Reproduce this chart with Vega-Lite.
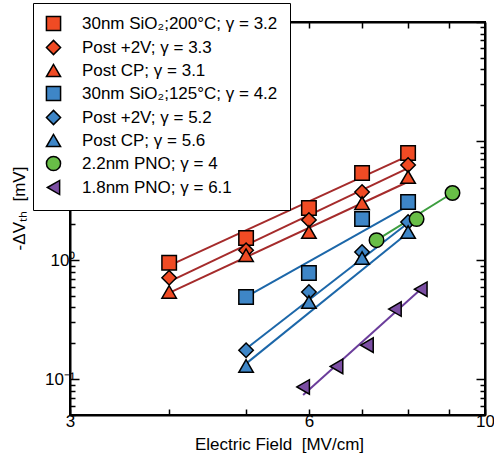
{
  "$schema": "https://vega.github.io/schema/vega-lite/v6.json",
  "width": 415,
  "height": 393,
  "autosize": {"type": "none"},
  "padding": {"left": 70, "top": 22, "right": 9, "bottom": 40},
  "background": "white",
  "config": {
    "view": {"stroke": "black", "strokeWidth": 2},
    "font": "Liberation Sans",
    "axis": {
      "grid": false,
      "domainColor": "black",
      "domainWidth": 2,
      "tickColor": "black",
      "tickWidth": 1.5,
      "labelColor": "black",
      "labelFont": "Liberation Sans",
      "labelFontSize": 17,
      "labelOverlap": false,
      "labelBound": false,
      "labelFlush": false,
      "titleFont": "Liberation Sans",
      "titleFontSize": 17,
      "titleFontWeight": "normal",
      "titleColor": "black"
    }
  },
  "datasets": {
    "pts": [
      {"s": "30nm SiO₂;200°C; γ = 3.2", "x": 4, "y": 0.95},
      {"s": "30nm SiO₂;200°C; γ = 3.2", "x": 5, "y": 1.53},
      {"s": "30nm SiO₂;200°C; γ = 3.2", "x": 6, "y": 2.74},
      {"s": "30nm SiO₂;200°C; γ = 3.2", "x": 7, "y": 5.38},
      {"s": "30nm SiO₂;200°C; γ = 3.2", "x": 8, "y": 7.93},
      {"s": "Post +2V; γ = 3.3", "x": 4, "y": 0.71},
      {"s": "Post +2V; γ = 3.3", "x": 5, "y": 1.21},
      {"s": "Post +2V; γ = 3.3", "x": 6, "y": 2.17},
      {"s": "Post +2V; γ = 3.3", "x": 7, "y": 3.73},
      {"s": "Post +2V; γ = 3.3", "x": 8, "y": 6.29},
      {"s": "Post CP; γ = 3.1", "x": 4, "y": 0.54},
      {"s": "Post CP; γ = 3.1", "x": 5, "y": 1.10},
      {"s": "Post CP; γ = 3.1", "x": 6, "y": 1.72},
      {"s": "Post CP; γ = 3.1", "x": 7, "y": 3.01},
      {"s": "Post CP; γ = 3.1", "x": 8, "y": 4.98},
      {"s": "30nm SiO₂;125°C; γ = 4.2", "x": 5, "y": 0.49},
      {"s": "30nm SiO₂;125°C; γ = 4.2", "x": 6, "y": 0.78},
      {"s": "30nm SiO₂;125°C; γ = 4.2", "x": 7, "y": 2.21},
      {"s": "30nm SiO₂;125°C; γ = 4.2", "x": 8, "y": 3.07},
      {"s": "Post +2V; γ = 5.2", "x": 5, "y": 0.175},
      {"s": "Post +2V; γ = 5.2", "x": 6, "y": 0.54},
      {"s": "Post +2V; γ = 5.2", "x": 7, "y": 1.17},
      {"s": "Post +2V; γ = 5.2", "x": 8, "y": 2.09},
      {"s": "Post CP; γ = 5.6", "x": 5, "y": 0.129},
      {"s": "Post CP; γ = 5.6", "x": 6, "y": 0.444},
      {"s": "Post CP; γ = 5.6", "x": 7, "y": 1.04},
      {"s": "Post CP; γ = 5.6", "x": 8, "y": 1.72},
      {"s": "2.2nm PNO; γ = 4", "x": 7.3, "y": 1.47},
      {"s": "2.2nm PNO; γ = 4", "x": 8.2, "y": 2.21},
      {"s": "2.2nm PNO; γ = 4", "x": 9.1, "y": 3.66},
      {"s": "1.8nm PNO; γ = 6.1", "x": 5.9, "y": 0.086},
      {"s": "1.8nm PNO; γ = 6.1", "x": 6.5, "y": 0.128},
      {"s": "1.8nm PNO; γ = 6.1", "x": 7.1, "y": 0.193},
      {"s": "1.8nm PNO; γ = 6.1", "x": 7.7, "y": 0.388},
      {"s": "1.8nm PNO; γ = 6.1", "x": 8.3, "y": 0.57}
    ],
    "fits": [
      {"g": "F1", "x": 4, "y": 0.90},
      {"g": "F1", "x": 8, "y": 7.5},
      {"g": "F2", "x": 4, "y": 0.66},
      {"g": "F2", "x": 8, "y": 5.93},
      {"g": "F3", "x": 4, "y": 0.53},
      {"g": "F3", "x": 8, "y": 4.55},
      {"g": "F4", "x": 5, "y": 0.49},
      {"g": "F4", "x": 8, "y": 2.86},
      {"g": "F5", "x": 5, "y": 0.18},
      {"g": "F5", "x": 8, "y": 2.05},
      {"g": "F6", "x": 5, "y": 0.135},
      {"g": "F6", "x": 8, "y": 1.7},
      {"g": "F7", "x": 7.3, "y": 1.47},
      {"g": "F7", "x": 9.1, "y": 3.66},
      {"g": "F8", "x": 5.9, "y": 0.0735},
      {"g": "F8", "x": 8.3, "y": 0.57}
    ]
  },
  "layer": [
    {
      "data": {"name": "fits"},
      "mark": {"type": "line", "strokeWidth": 2},
      "encoding": {
        "x": {
          "field": "x", "type": "quantitative",
          "scale": {"type": "log", "domain": [3, 10], "nice": false},
          "axis": {
            "orient": "bottom",
            "values": [3, 4, 5, 6, 7, 8, 9, 10],
            "labelExpr": "datum.value == 3 ? '3' : datum.value == 6 ? '6' : datum.value == 10 ? '10' : ''",
            "tickSize": -6,
            "labelPadding": 4,
            "title": "Electric Field \u00a0[MV/cm]",
            "titleX": 209,
            "titleY": 21,
            "titleBaseline": "top",
            "titleAnchor": "middle"
          }
        },
        "y": {
          "field": "y", "type": "quantitative",
          "scale": {"type": "log", "domain": [0.05, 100], "nice": false},
          "axis": {
            "orient": "left",
            "values": [0.05, 0.06, 0.07, 0.08, 0.09, 0.1, 0.2, 0.3, 0.4, 0.5, 0.6, 0.7, 0.8, 0.9, 1, 2, 3, 4, 5, 6, 7, 8, 9, 10, 20, 30, 40, 50, 60, 70, 80, 90, 100],
            "labelExpr": "datum.value == 1 ? '10⁰' : datum.value == 0.1 ? '10⁻¹' : ''",
            "tickSize": {"condition": {"test": "datum.value == 0.1 || datum.value == 1 || datum.value == 10 || datum.value == 100", "value": -9}, "value": -5},
            "labelPadding": 4,
            "title": "-ΔVₜₕ \u00a0[mV]",
            "titleX": -51,
            "titleY": 186,
            "titleBaseline": "middle",
            "titleAnchor": "middle"
          }
        },
        "detail": {"field": "g", "type": "nominal"},
        "stroke": {
          "field": "g", "type": "nominal",
          "scale": {
            "domain": ["F1", "F2", "F3", "F4", "F5", "F6", "F7", "F8"],
            "range": ["#a52b2b", "#a52b2b", "#a52b2b", "#1c67a9", "#1c67a9", "#1c67a9", "#3d9e3f", "#6b3d9b"]
          },
          "legend": null
        }
      }
    },
    {
      "data": {"name": "pts"},
      "mark": {"type": "point", "filled": true, "stroke": "black", "strokeWidth": 1.5, "opacity": 1, "size": 210},
      "encoding": {
        "x": {
          "field": "x", "type": "quantitative",
          "axis": {
            "orient": "top",
            "values": [4, 5, 6, 7, 8, 9],
            "labels": false,
            "tickSize": -6,
            "title": null
          }
        },
        "y": {
          "field": "y", "type": "quantitative",
          "axis": {
            "orient": "right",
            "values": [0.05, 0.06, 0.07, 0.08, 0.09, 0.1, 0.2, 0.3, 0.4, 0.5, 0.6, 0.7, 0.8, 0.9, 1, 2, 3, 4, 5, 6, 7, 8, 9, 10, 20, 30, 40, 50, 60, 70, 80, 90, 100],
            "labels": false,
            "tickSize": {"condition": {"test": "datum.value == 0.1 || datum.value == 1 || datum.value == 10 || datum.value == 100", "value": -9}, "value": -5},
            "title": null
          }
        },
        "fill": {
          "field": "s", "type": "nominal",
          "scale": {
            "domain": ["30nm SiO₂;200°C; γ = 3.2", "Post +2V; γ = 3.3", "Post CP; γ = 3.1", "30nm SiO₂;125°C; γ = 4.2", "Post +2V; γ = 5.2", "Post CP; γ = 5.6", "2.2nm PNO; γ = 4", "1.8nm PNO; γ = 6.1"],
            "range": ["#f04b24", "#f04b24", "#f04b24", "#3e86c7", "#3e86c7", "#3e86c7", "#68be47", "#7b4ea3"]
          },
          "legend": {
            "orient": "none",
            "legendX": -37,
            "legendY": -19,
            "title": null,
            "fillColor": "white",
            "strokeColor": "black",
            "padding": 12,
            "labelFont": "Liberation Sans",
            "labelFontSize": 17,
            "labelColor": "black",
            "labelLimit": 400,
            "labelOffset": 20,
            "rowPadding": 3,
            "symbolSize": 200,
            "symbolStrokeColor": "black",
            "symbolStrokeWidth": 1.5
          }
        },
        "shape": {
          "field": "s", "type": "nominal",
          "scale": {
            "domain": ["30nm SiO₂;200°C; γ = 3.2", "Post +2V; γ = 3.3", "Post CP; γ = 3.1", "30nm SiO₂;125°C; γ = 4.2", "Post +2V; γ = 5.2", "Post CP; γ = 5.6", "2.2nm PNO; γ = 4", "1.8nm PNO; γ = 6.1"],
            "range": ["square", "diamond", "triangle-up", "square", "diamond", "triangle-up", "circle", "triangle-left"]
          }
        }
      }
    }
  ],
  "resolve": {"axis": {"x": "independent", "y": "independent"}}
}
